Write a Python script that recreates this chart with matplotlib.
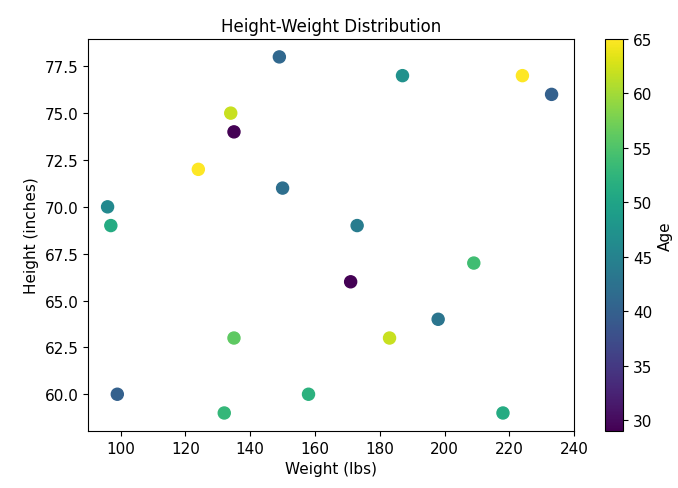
import matplotlib
matplotlib.use("Agg")
import matplotlib.pyplot as plt

# Data
weight = [149, 187, 224, 233, 134, 135, 124, 150, 96, 97,
          173, 209, 171, 198, 135, 183, 99, 158, 132, 218]
height = [78, 77, 77, 76, 75, 74, 72, 71, 70, 69,
          69, 67, 66, 64, 63, 63, 60, 60, 59, 59]
age = [41, 47, 65, 40, 62, 29, 65, 42, 46, 51,
       44, 54, 29, 43, 56, 62, 40, 52, 53, 51]

fig = plt.figure(figsize=(6.78, 4.89), dpi=100)
ax = fig.add_axes([0.130, 0.117, 0.717, 0.801])
cax = fig.add_axes([0.893, 0.117, 0.026, 0.801])

sc = ax.scatter(weight, height, c=age, cmap="viridis", s=75)
ax.set_title("Height-Weight Distribution", fontsize=12)
ax.set_xlabel("Weight (lbs)", fontsize=11)
ax.set_ylabel("Height (inches)", fontsize=11)
ax.set_xlim(90, 240)
ax.tick_params(labelsize=11)

cbar = fig.colorbar(sc, cax=cax)
cbar.set_label("Age", fontsize=11)
cbar.ax.tick_params(labelsize=11)

fig.savefig("out.png", dpi=100)
